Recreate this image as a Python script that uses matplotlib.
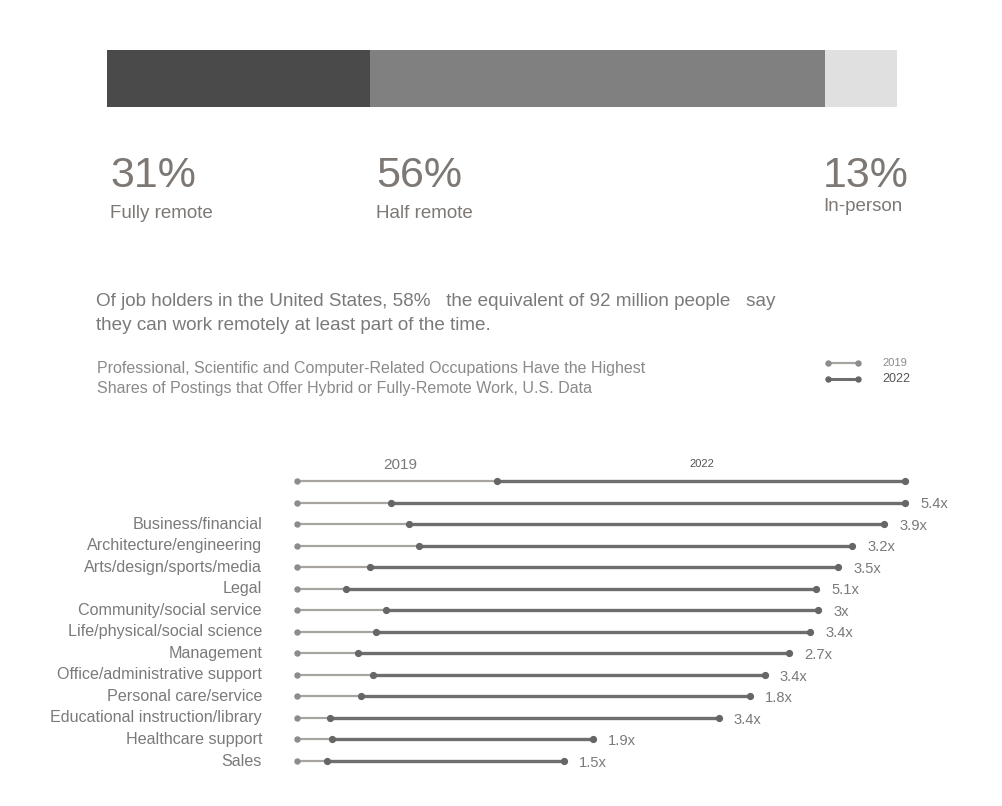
import matplotlib
matplotlib.use("Agg")
import matplotlib.pyplot as plt

plt.rcParams["font.family"] = ["Liberation Sans", "DejaVu Sans"]

# 上部の積み上げバー
share_names = ["Fully remote", "Half remote", "In-person"]
share_labels = ["31%", "56%", "13%"]
share_widths = [33.3, 57.6, 9.1]
share_colors = ["#4a4a4a", "#808080", "#e0e0e0"]

# ダンベルチャートのデータ (share of postings, %)
categories = [
    "", "",
    "Business/financial",
    "Architecture/engineering",
    "Arts/design/sports/media",
    "Legal",
    "Community/social service",
    "Life/physical/social science",
    "Management",
    "Office/administrative support",
    "Personal care/service",
    "Educational instruction/library",
    "Healthcare support",
    "Sales",
]
v2019 = [20.0, 9.4, 11.2, 12.2, 7.3, 4.9, 8.9, 7.9, 6.1, 7.6, 6.4, 3.3, 3.5, 3.0]
v2022 = [60.8, 60.8, 58.7, 55.5, 54.1, 51.9, 52.1, 51.3, 49.2, 46.8, 45.3, 42.2, 29.6, 26.7]
ratios = ["", "5.4x", "3.9x", "3.2x", "3.5x", "5.1x", "3x", "3.4x", "2.7x",
          "3.4x", "1.8x", "3.4x", "1.9x", "1.5x"]

W, H = 1002, 806
fig = plt.figure(figsize=(W / 100, H / 100), dpi=100)


def fx(px):
    return px / W


def fy(py):
    return 1 - py / H


label_c = "#7d7874"
text_c = "#7a7a7a"

# 積み上げバー
bax = fig.add_axes([fx(107), fy(107), fx(897) - fx(107), fy(50) - fy(107)])
left = 0
for w, c in zip(share_widths, share_colors):
    bax.barh(0, w, left=left, color=c, height=1.0, edgecolor="none")
    left += w
bax.set_xlim(0, 100)
bax.set_ylim(-0.5, 0.5)
bax.axis("off")

# パーセント表示
pct_pos = [(110, 187, 213), (376, 187, 213), (823, 187, 207)]
for (x, y1, y2), lab, name in zip(pct_pos, share_labels, share_names):
    fig.text(fx(x), fy(y1), lab, fontsize=31, color=label_c, ha="left", va="baseline")
    fig.text(fx(x), fy(y2), name, fontsize=13.5, color=label_c, ha="left", va="center")

# 本文
fig.text(fx(96), fy(302),
         "Of job holders in the United States, 58%   the equivalent of 92 million people   say",
         fontsize=13.6, color=text_c, ha="left", va="center")
fig.text(fx(96), fy(325), "they can work remotely at least part of the time.",
         fontsize=13.6, color=text_c, ha="left", va="center")
fig.text(fx(97), fy(369),
         "Professional, Scientific and Computer-Related Occupations Have the Highest",
         fontsize=11.5, color="#8a8a8a", ha="left", va="center")
fig.text(fx(97), fy(388),
         "Shares of Postings that Offer Hybrid or Fully-Remote Work, U.S. Data",
         fontsize=11.5, color="#8a8a8a", ha="left", va="center")

c19 = "#a8a4a0"
c22 = "#6e6e6e"
dot19 = "#8c8c8c"
dot22 = "#666666"

# ピクセル座標の軸 (凡例用)
ax = fig.add_axes([0, 0, 1, 1])
ax.set_xlim(0, W)
ax.set_ylim(H, 0)
ax.axis("off")

# ダンベルチャート用の軸 (x: 1単位=10px, 0 -> 297px)
dax = fig.add_axes([0, 0, 1, 1])
dax.set_xlim(-29.7, 70.5)
step = (761 - 481) / 13
dax.set_ylim((806 - 481) / step, -481 / step)
dax.axis("off")

for i, (a, b) in enumerate(zip(v2019, v2022)):
    dax.plot([0, a], [i, i], color=c19, lw=1.6, solid_capstyle="butt", zorder=2)
    dax.plot([a, b], [i, i], color=c22, lw=2.4, solid_capstyle="butt", zorder=2)
    dax.plot([0], [i], "o", color=dot19, ms=3.6, zorder=3)
    dax.plot([a, b], [i, i], "o", color=dot22, ms=4.2, lw=0, zorder=3)
    if ratios[i]:
        dax.text(b + 1.5, i + 0.08, ratios[i], fontsize=10.6, color="#7a7a7a",
                 ha="left", va="center")
    if categories[i]:
        dax.text(-3.5, i, categories[i], fontsize=11.6, color="#7a7a7a",
                 ha="right", va="center")

# 系列名 (チャート上部)
dax.text(v2019[0] / 2 + 0.3, -0.75, "2019", fontsize=11, color="#7a7a7a", ha="center", va="center")
dax.text((v2019[0] + v2022[0]) / 2 + 0.1, -0.8, "2022", fontsize=8, color="#555555", ha="center", va="center")

# 右上の凡例
ax.plot([828, 858], [363, 363], color=c19, lw=1.6)
ax.plot([828, 858], [363, 363], "o", color=dot19, ms=3.6, lw=0)
ax.plot([828, 858], [379, 379], color=c22, lw=2.2)
ax.plot([828, 858], [379, 379], "o", color=dot22, ms=3.6, lw=0)
ax.text(882, 363, "2019", fontsize=8, color="#8a8a8a", ha="left", va="center")
ax.text(882, 379, "2022", fontsize=9, color="#555555", ha="left", va="center")

fig.savefig("out.png", dpi=100, facecolor="white")
